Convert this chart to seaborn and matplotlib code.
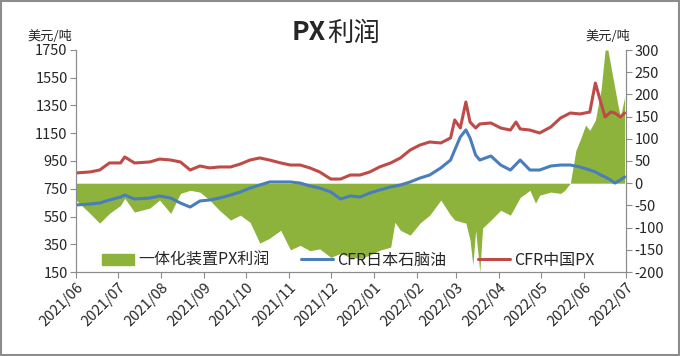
from matplotlib import pyplot as plt
import matplotlib.dates as mdates
import pandas as pd
import seaborn as sns

##### Data (USD/ton)
red_dates = ['2021-06-01', '2021-06-11', '2021-06-18', '2021-06-25', '2021-07-03', '2021-07-06', '2021-07-13',
             '2021-07-24', '2021-07-31', '2021-08-08', '2021-08-15', '2021-08-22', '2021-08-29', '2021-09-05',
             '2021-09-12', '2021-09-20', '2021-09-27', '2021-10-04', '2021-10-11', '2021-10-18', '2021-10-26',
             '2021-11-02', '2021-11-09', '2021-11-16', '2021-11-23', '2021-12-01', '2021-12-08', '2021-12-15',
             '2021-12-22', '2021-12-29', '2022-01-05', '2022-01-13', '2022-01-20', '2022-01-27', '2022-02-03',
             '2022-02-10', '2022-02-18', '2022-02-25', '2022-02-28', '2022-03-04', '2022-03-08', '2022-03-11',
             '2022-03-15', '2022-03-18', '2022-03-26', '2022-04-02', '2022-04-09', '2022-04-13', '2022-04-16',
             '2022-04-23', '2022-04-30', '2022-05-08', '2022-05-15', '2022-05-22', '2022-05-29', '2022-06-05',
             '2022-06-09', '2022-06-13', '2022-06-16', '2022-06-20', '2022-06-23', '2022-06-27', '2022-06-30']
cfr_china_px = [864, 871, 885, 936, 936, 979, 936,
                943, 964, 957, 943, 885, 914, 900,
                907, 907, 928, 957, 972, 957, 936,
                921, 921, 900, 871, 820, 820, 849,
                849, 871, 907, 936, 972, 1029, 1065,
                1087, 1080, 1116, 1246, 1188, 1375, 1231,
                1188, 1217, 1224, 1188, 1173, 1231, 1181,
                1173, 1152, 1195, 1260, 1296, 1289, 1303,
                1512, 1368, 1267, 1303, 1296, 1267, 1296]

blue_dates = ['2021-06-01', '2021-06-11', '2021-06-18', '2021-06-25', '2021-07-03', '2021-07-06', '2021-07-13',
              '2021-07-24', '2021-07-31', '2021-08-08', '2021-08-15', '2021-08-22', '2021-08-29', '2021-09-05',
              '2021-09-12', '2021-09-20', '2021-09-27', '2021-10-04', '2021-10-11', '2021-10-18', '2021-10-26',
              '2021-11-02', '2021-11-09', '2021-11-16', '2021-11-23', '2021-12-01', '2021-12-08', '2021-12-15',
              '2021-12-22', '2021-12-29', '2022-01-05', '2022-01-13', '2022-01-20', '2022-01-27', '2022-02-03',
              '2022-02-10', '2022-02-18', '2022-02-25', '2022-02-28', '2022-03-04', '2022-03-08', '2022-03-11',
              '2022-03-15', '2022-03-18', '2022-03-26', '2022-04-02', '2022-04-09', '2022-04-16', '2022-04-23',
              '2022-04-30', '2022-05-08', '2022-05-15', '2022-05-22', '2022-05-29', '2022-06-05', '2022-06-09',
              '2022-06-13', '2022-06-16', '2022-06-20', '2022-06-23', '2022-06-27', '2022-06-30']
cfr_japan_naphtha = [633, 640, 647, 669, 690, 705, 676,
                     683, 698, 683, 647, 618, 662, 669,
                     683, 705, 727, 755, 777, 799, 799,
                     799, 791, 770, 755, 727, 676, 698,
                     690, 719, 741, 763, 777, 799, 827,
                     849, 900, 957, 1029, 1123, 1174, 1116,
                     993, 957, 986, 921, 885, 957, 885,
                     885, 914, 921, 921, 907, 885, 871,
                     849, 835, 813, 791, 813, 835]

green_dates = ['2021-06-01', '2021-06-11', '2021-06-18', '2021-06-25', '2021-07-03', '2021-07-06', '2021-07-13',
               '2021-07-24', '2021-07-31', '2021-08-08', '2021-08-15', '2021-08-22', '2021-08-29', '2021-09-05',
               '2021-09-12', '2021-09-20', '2021-09-27', '2021-10-04', '2021-10-11', '2021-10-18', '2021-10-26',
               '2021-11-02', '2021-11-09', '2021-11-16', '2021-11-23', '2021-12-01', '2021-12-08', '2021-12-15',
               '2021-12-22', '2021-12-29', '2022-01-05', '2022-01-13', '2022-01-16', '2022-01-20', '2022-01-27',
               '2022-02-03', '2022-02-10', '2022-02-18', '2022-02-25', '2022-02-28', '2022-03-08', '2022-03-11',
               '2022-03-13', '2022-03-15', '2022-03-18', '2022-03-20', '2022-03-26', '2022-04-02', '2022-04-09',
               '2022-04-16', '2022-04-23', '2022-04-27', '2022-04-30', '2022-05-08', '2022-05-15', '2022-05-18',
               '2022-05-22', '2022-05-26', '2022-05-29', '2022-06-02', '2022-06-05', '2022-06-09', '2022-06-13',
               '2022-06-16', '2022-06-18', '2022-06-21', '2022-06-25', '2022-06-27', '2022-06-30']
px_profit = [-38, -68, -90, -68, -50, -34, -65,
             -56, -38, -68, -23, -16, -20, -38,
             -61, -83, -72, -88, -135, -124, -106,
             -150, -140, -152, -148, -167, -158, -167,
             -169, -162, -151, -144, -88, -106, -117,
             -90, -72, -38, -72, -83, -90, -128,
             -185, -106, -200, -101, -83, -61, -72,
             -32, -16, -45, -27, -20, -23, -16,
             0, 74, 97, 131, 119, 142, 209,
             300, 300, 248, 180, 149, 194]

red_df = pd.DataFrame({'date': pd.to_datetime(red_dates), 'price': cfr_china_px})
blue_df = pd.DataFrame({'date': pd.to_datetime(blue_dates), 'price': cfr_japan_naphtha})
green_df = pd.DataFrame({'date': pd.to_datetime(green_dates), 'profit': px_profit})

##### Style
sns.set_style('white')
plt.rcParams['font.family'] = ['Noto Sans CJK SC', 'DejaVu Sans']
plt.rcParams['axes.unicode_minus'] = False

fig = plt.figure(figsize=(6.8, 3.56), dpi=100)
ax1 = fig.add_axes([76/680, 1 - 272/356, 550/680, 222/356])
ax2 = ax1.twinx()

# green area on the right axis, lines on the left axis drawn on top
ax2.fill_between(green_df['date'], 0, green_df['profit'], color='#8DB33C', linewidth=0)
sns.lineplot(data=blue_df, x='date', y='price', ax=ax1, color='#4A7EBB', linewidth=2.2)
sns.lineplot(data=red_df, x='date', y='price', ax=ax1, color='#BE4B48', linewidth=2.2)
ax1.set_zorder(ax2.get_zorder() + 1)
ax1.patch.set_visible(False)

ax1.set_ylim(150, 1750)
ax1.set_yticks(range(150, 1751, 200))
ax2.set_ylim(-200, 300)
ax2.set_yticks(range(-200, 301, 50))
ax1.set_xlim(pd.Timestamp('2021-06-01'), pd.Timestamp('2022-07-01'))
ax1.xaxis.set_major_locator(mdates.MonthLocator())
ax1.xaxis.set_major_formatter(mdates.DateFormatter('%Y/%m'))
ax1.set_xlabel('')
ax1.set_ylabel('')

for a in (ax1, ax2):
    for s in a.spines.values():
        s.set_color('#8C8C8C')
        s.set_linewidth(0.8)
    a.spines['top'].set_visible(False)
ax1.tick_params(axis='both', which='both', length=4, width=0.8, color='#8C8C8C', labelsize=10.5, pad=2)
ax1.tick_params(axis='x', labelsize=10.5, bottom=True)
ax1.tick_params(axis='y', left=True)
ax2.tick_params(axis='y', right=True, length=4, width=0.8, color='#8C8C8C', labelsize=10.5, pad=2)
for lbl in ax1.get_xticklabels():
    lbl.set_rotation(45)
    lbl.set_ha('right')
    lbl.set_va('top')
    lbl.set_rotation_mode('anchor')

# legend
handles = [plt.Rectangle((0, 0), 1, 1, color='#8DB33C'),
           plt.Line2D([], [], color='#4A7EBB', linewidth=2.2),
           plt.Line2D([], [], color='#BE4B48', linewidth=2.2)]
labels = ['一体化装置PX利润', 'CFR日本石脑油', 'CFR中国PX']
ax1.legend(handles, labels, loc='lower center', bbox_to_anchor=(0.495, -0.05), ncol=3, frameon=False,
           fontsize=11.5, columnspacing=2.0, handlelength=2.0, handletextpad=0.25)

# titles and units
fig.text(326/680, 1 - 33/356, 'PX', ha='right', va='center', fontsize=19, weight='bold')
fig.text(327/680, 1 - 33/356, '利润', ha='left', va='center', fontsize=19)
fig.text(50/680, 1 - 37/356, '美元/吨', ha='center', va='center', fontsize=9.5)
fig.text(608/680, 1 - 37/356, '美元/吨', ha='center', va='center', fontsize=9.5)

# outer frame
fig.patches.append(plt.Rectangle((0.002, 0.003), 0.996, 0.994, transform=fig.transFigure,
                                 fill=False, edgecolor='#8C8C8C', linewidth=1.5))

plt.savefig('out.png', dpi=100)
